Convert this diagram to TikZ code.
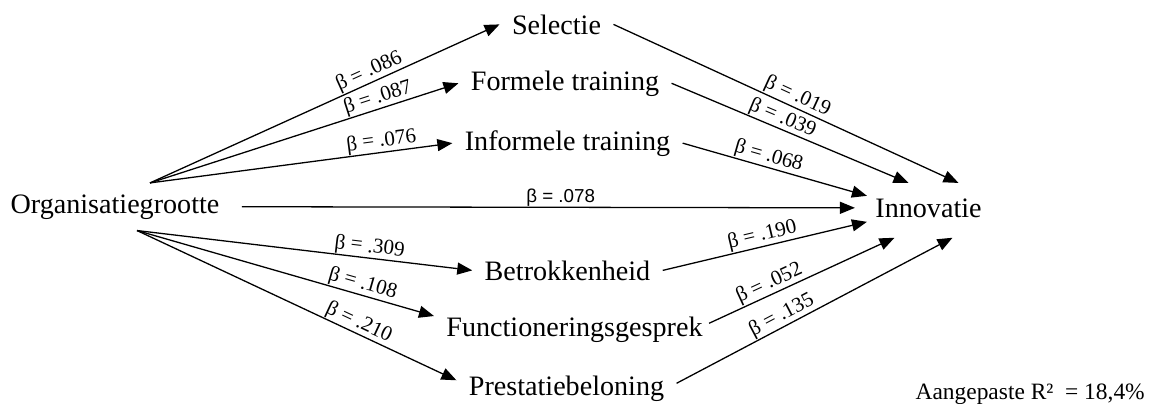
\documentclass[tikz,border=0pt]{standalone}
\usepackage{fontspec}
\setmainfont{Liberation Serif}
\newfontfamily\labelsans{Liberation Sans}
\usepackage{tikz}
\usetikzlibrary{arrows.meta}

\tikzstyle{var}      = [inner xsep=0.18cm, inner ysep=0pt, anchor=base, font=\fontsize{12}{14}\selectfont]
\tikzstyle{orgbox}   = [var, inner xsep=0.33cm, inner ysep=0.165cm]
\tikzstyle{depbox}   = [var, inner xsep=0.12cm, inner ysep=0.225cm]
\tikzstyle{beta}     = [sloped, above, inner sep=0.3pt, font=\fontsize{9}{10}\selectfont]
\tikzstyle{betasans} = [beta, font=\labelsans\fontsize{8}{9}\selectfont]
\tikzstyle{arrow}    = [line width=0.55pt, -{Triangle[length=0.225cm, width=0.18cm]}]

\begin{document}
\begin{tikzpicture}[x=0.015cm, y=0.015cm]
      \useasboundingbox (0,0) rectangle (1155,403);

      \node (org)   [orgbox] at (115,190)   {Organisatiegrootte};
      \node (innov) [depbox] at (928.5,186) {Innovatie};

      \node (sel)   [var] at (556.5,369) {Selectie};
      \node (form)  [var] at (565,313)   {Formele training};
      \node (inf)   [var] at (567.5,253) {Informele training};
      \node (betr)  [var] at (567.5,123) {Betrokkenheid};
      \node (func)  [var] at (574.5,67)  {Functioneringsgesprek};
      \node (prest) [var] at (566.5,8)   {Prestatiebeloning};

      \node (note) [anchor=base east, font=\fontsize{10}{12}\selectfont] at (1153,4) {Aangepaste R²~ = 18,4\%};

      % Organisatiegrootte naar HR-praktijken
      \draw [arrow] ([shift={(35,0)}]org.north) -- (sel.west)  node [beta, pos=.64] {β = .086};
      \draw [arrow] ([shift={(35,0)}]org.north) -- (form.west) node [beta, pos=.75] {β = .087};
      \draw [arrow] ([shift={(35,0)}]org.north) -- (inf.west)  node [beta, pos=.77] {β = .076};

      \draw [arrow] (org.east) -- ([shift={(-12,0)}]innov.west) node [betasans, pos=.52] {β = .078};

      \draw [arrow] ([shift={(22,0)}]org.south) -- (betr.west)                   node [beta, pos=.69] {β = .309};
      \draw [arrow] ([shift={(22,0)}]org.south) -- (func.north west)             node [beta, pos=.75] {β = .108};
      \draw [arrow] ([shift={(22,0)}]org.south) -- ([shift={(0,8)}]prest.west)   node [beta, pos=.68] {β = .210};

      % HR-praktijken naar innovatie
      \draw [arrow] (sel.east)  -- ([shift={(30,0)}]innov.north)  node [beta, pos=.52] {β = .019};
      \draw [arrow] (form.east) -- ([shift={(-20,0)}]innov.north) node [beta, pos=.45] {β = .039};
      \draw [arrow] (inf.east)  -- ([shift={(0,12)}]innov.west)   node [beta, pos=.45] {β = .068};

      \draw [arrow] (betr.east)                   -- ([shift={(0,-14)}]innov.west)  node [beta, pos=.50] {β = .190};
      \draw [arrow] ([shift={(-6,6)}]func.east)   -- ([shift={(-34,-5)}]innov.south) node [beta, pos=.35] {β = .052};
      \draw [arrow] ([shift={(0,5)}]prest.east)   -- ([shift={(24,-5)}]innov.south)  node [beta, pos=.40] {β = .135};
    \end{tikzpicture}
\end{document}
